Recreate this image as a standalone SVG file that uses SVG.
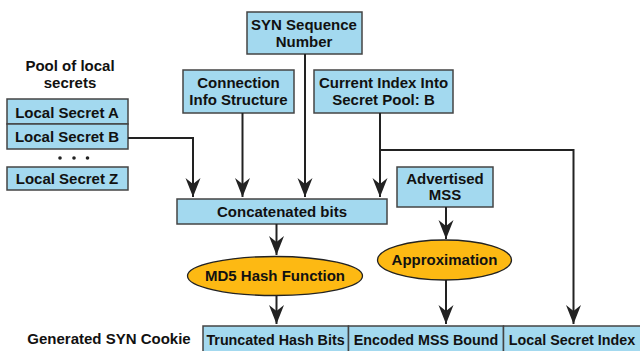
<svg xmlns="http://www.w3.org/2000/svg" width="640" height="351" viewBox="0 0 640 351">
<style>
text{font-family:"Liberation Sans",Arial,sans-serif;font-weight:bold;font-size:15px;fill:#111;text-anchor:middle}
.sm{font-size:14.3px}
.box{fill:#a3d9ef;stroke:#444;stroke-width:1.5}
.ell{fill:#fdb913;stroke:#222;stroke-width:1.3}
.ln{fill:none;stroke:#222;stroke-width:2}
</style>
<defs>
<marker id="ah" markerUnits="userSpaceOnUse" markerWidth="24" markerHeight="20" viewBox="-20 -10 24 20" refX="0" refY="0" orient="auto">
<path d="M0,0 L-19,-7.5 L-13,0 L-19,7.5 Z" fill="#222"/>
</marker>
</defs>
<rect width="640" height="351" fill="#fff"/>
<g id="pool-label"><text x="70" y="71">Pool of local</text><text x="70" y="87.5">secrets</text></g>
<g id="secret-a"><rect class="box" x="7" y="99" width="121" height="25"/><text x="67" y="117.5">Local Secret A</text></g>
<g id="secret-b"><rect class="box" x="7" y="124" width="121" height="25"/><text x="67" y="142">Local Secret B</text></g>
<g id="dots"><circle cx="60" cy="158" r="1.8" fill="#222"/><circle cx="74" cy="158" r="1.8" fill="#222"/><circle cx="87.5" cy="158" r="1.8" fill="#222"/></g>
<g id="secret-z"><rect class="box" x="7" y="167" width="121" height="23"/><text x="67" y="184">Local Secret Z</text></g>
<g id="syn-seq"><rect class="box" x="247" y="12" width="115" height="42"/><text x="304" y="29.5">SYN Sequence</text><text x="304" y="47">Number</text></g>
<g id="conn-info"><rect class="box" x="183" y="70" width="111" height="43"/><text x="238.5" y="87.5">Connection</text><text x="238.5" y="104.5">Info Structure</text></g>
<g id="cur-index"><rect class="box" x="314" y="70" width="139" height="43"/><text x="383.5" y="87.5">Current Index Into</text><text x="383.5" y="104.5">Secret Pool: B</text></g>
<g id="concat"><rect class="box" x="177" y="199" width="210" height="25"/><text x="282" y="217">Concatenated bits</text></g>
<g id="adv-mss"><rect class="box" x="397" y="167" width="96" height="40"/><text x="445" y="183.5">Advertised</text><text x="445" y="199.5">MSS</text></g>
<g id="md5"><ellipse class="ell" cx="275" cy="276" rx="87.5" ry="19.5"/><text x="275" y="281">MD5 Hash Function</text></g>
<g id="approx"><ellipse class="ell" cx="444.5" cy="260" rx="67" ry="20"/><text x="444.5" y="265">Approximation</text></g>
<g id="cookie-label"><text x="109" y="344">Generated SYN Cookie</text></g>
<g id="cookie">
<rect class="box" x="203" y="326" width="145.5" height="32"/><text class="sm" x="275.5" y="344.5">Truncated Hash Bits</text>
<rect class="box" x="348.5" y="326" width="155" height="32"/><text class="sm" x="426" y="344.5">Encoded MSS Bound</text>
<rect class="box" x="503.5" y="326" width="140" height="32"/><text class="sm" x="572" y="344.5">Local Secret Index</text>
</g>
<g id="connectors">
<path class="ln" d="M128,138 H193 V197" marker-end="url(#ah)"/>
<path class="ln" d="M242.5,113 V197" marker-end="url(#ah)"/>
<path class="ln" d="M305,54 V197" marker-end="url(#ah)"/>
<path class="ln" d="M380,113 V197" marker-end="url(#ah)"/>
<path class="ln" d="M380,150 H573.5 V324" marker-end="url(#ah)"/>
<path class="ln" d="M276.5,224 V255" marker-end="url(#ah)"/>
<path class="ln" d="M446,207 V239" marker-end="url(#ah)"/>
<path class="ln" d="M446,280 V324" marker-end="url(#ah)"/>
<path class="ln" d="M276.5,295.5 V324" marker-end="url(#ah)"/>
</g>
</svg>
